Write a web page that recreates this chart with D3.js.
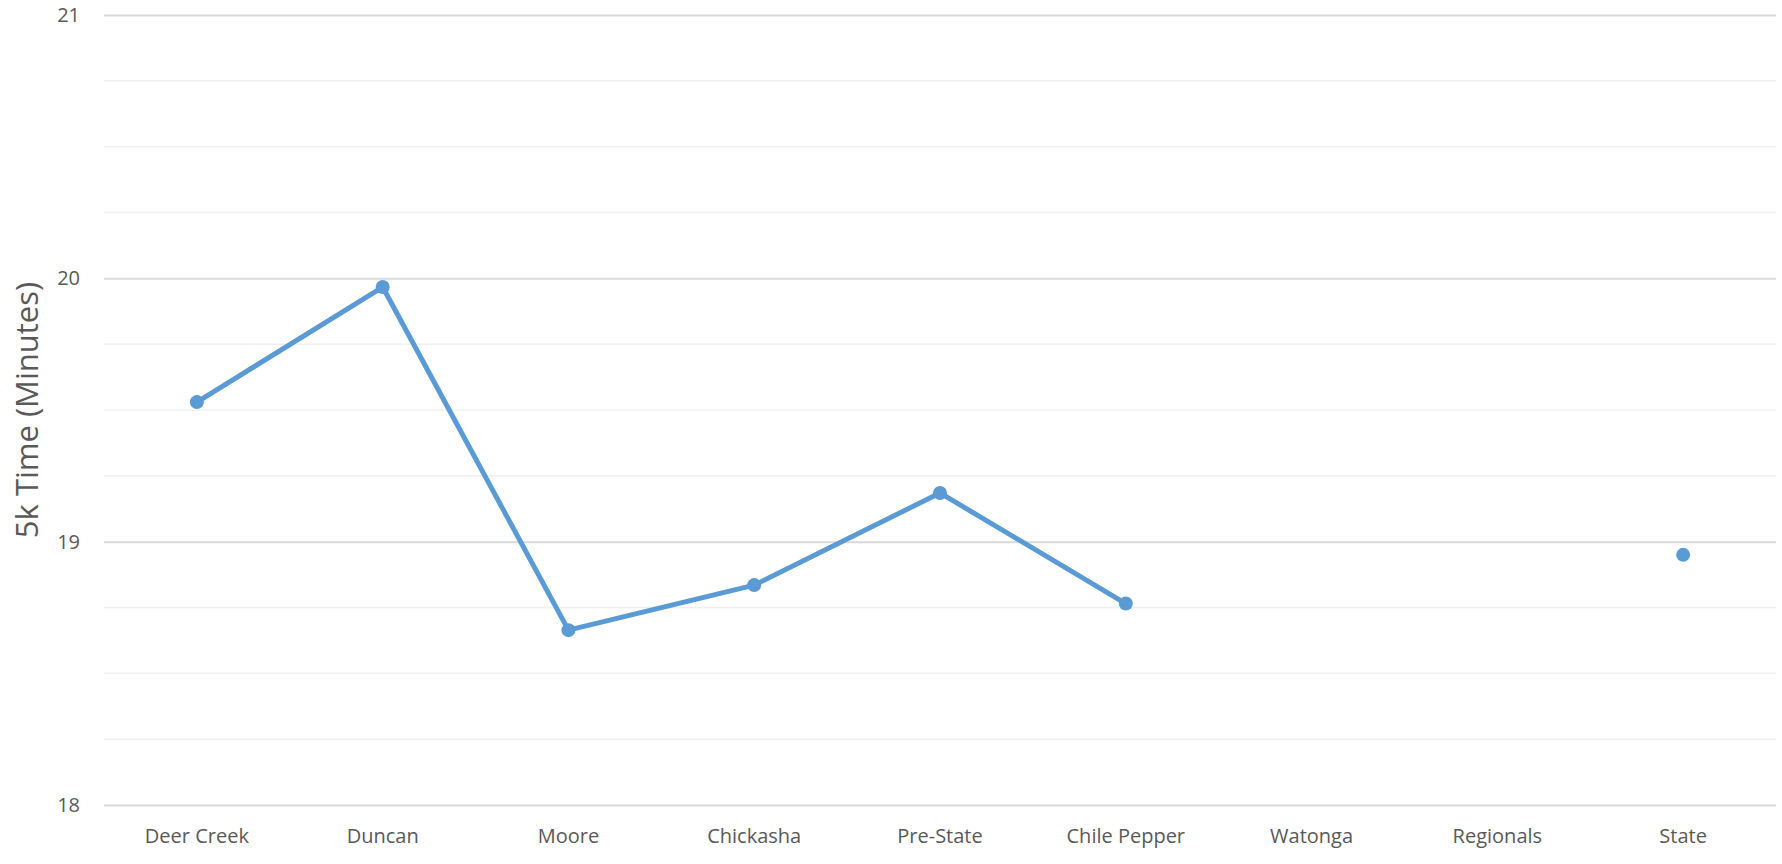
<!DOCTYPE html>
<html>
<head>
<meta charset="utf-8">
<script src="https://cdn.jsdelivr.net/npm/d3@7"></script>
<style>
  body { margin: 0; background: #fff; }
  text { font-family: "Open Sans", sans-serif; fill: #595959; }
</style>
</head>
<body>
<div id="chart"></div>
<script>
// Chart data
var meets = ["Deer Creek", "Duncan", "Moore", "Chickasha", "Pre-State", "Chile Pepper", "Watonga", "Regionals", "State"];
var times = [19.53, 19.967, 18.664, 18.835, 19.185, 18.765, null, null, 18.95];
var majorTicks = [18, 19, 20, 21];
var minorTicks = [18.25, 18.5, 18.75, 19.25, 19.5, 19.75, 20.25, 20.5, 20.75];

// General chart parameters
var svgWidth = 1782;
var svgHeight = 864;

var margin = { top: 15, right: 6, bottom: 59, left: 104 };
var width = svgWidth - margin.left - margin.right;
var height = svgHeight - margin.top - margin.bottom;

var svg = d3.select("#chart")
    .append("svg")
    .attr("width", svgWidth)
    .attr("height", svgHeight);

var chartGroup = svg.append("g")
    .attr("transform", `translate(${margin.left}, ${margin.top})`);

// Scales
var xScale = d3.scaleBand()
    .domain(meets)
    .range([0, width]);

var yScale = d3.scaleLinear()
    .domain([18, 21])
    .range([height, 0]);

var xPos = d => xScale(d) + xScale.bandwidth() / 2;

// Minor gridlines
chartGroup.append("g")
    .selectAll("line")
    .data(minorTicks)
    .enter()
    .append("line")
    .attr("x1", 0)
    .attr("x2", width)
    .attr("y1", d => yScale(d))
    .attr("y2", d => yScale(d))
    .attr("stroke", "#f0f0f0")
    .attr("stroke-width", 1.5);

// Y axis (major gridlines + labels)
var yAxis = chartGroup.append("g")
    .call(d3.axisLeft(yScale)
        .tickValues(majorTicks)
        .tickSize(-width)
        .tickPadding(24)
        .tickFormat(d3.format("d")));
yAxis.select(".domain").remove();
yAxis.selectAll(".tick line")
    .attr("stroke", "#d9d9d9")
    .attr("stroke-width", 2);
yAxis.selectAll(".tick text")
    .attr("font-size", 20)
    .attr("fill", "#595959");

// X axis labels
var xAxis = chartGroup.append("g")
    .attr("transform", `translate(0, ${height})`)
    .call(d3.axisBottom(xScale).tickSize(0).tickPadding(24));
xAxis.select(".domain").remove();
xAxis.selectAll(".tick text")
    .attr("font-size", 20)
    .attr("fill", "#595959");

// Y axis title
svg.append("text")
    .attr("transform", `translate(38, ${margin.top + height / 2}) rotate(-90)`)
    .attr("text-anchor", "middle")
    .attr("font-size", 31)
    .attr("fill", "#595959")
    .text("5k Time (Minutes)");

// Line
var series = meets.map((m, i) => ({ meet: m, time: times[i] }));

var line = d3.line()
    .defined(d => d.time !== null)
    .x(d => xPos(d.meet))
    .y(d => yScale(d.time));

chartGroup.append("path")
    .datum(series)
    .attr("d", line)
    .attr("fill", "none")
    .attr("stroke", "#5b9bd5")
    .attr("stroke-width", 5)
    .attr("stroke-linejoin", "round");

// Points
chartGroup.selectAll("circle")
    .data(series.filter(d => d.time !== null))
    .enter()
    .append("circle")
    .attr("cx", d => xPos(d.meet))
    .attr("cy", d => yScale(d.time))
    .attr("r", 7)
    .attr("fill", "#5b9bd5");
</script>
</body>
</html>
